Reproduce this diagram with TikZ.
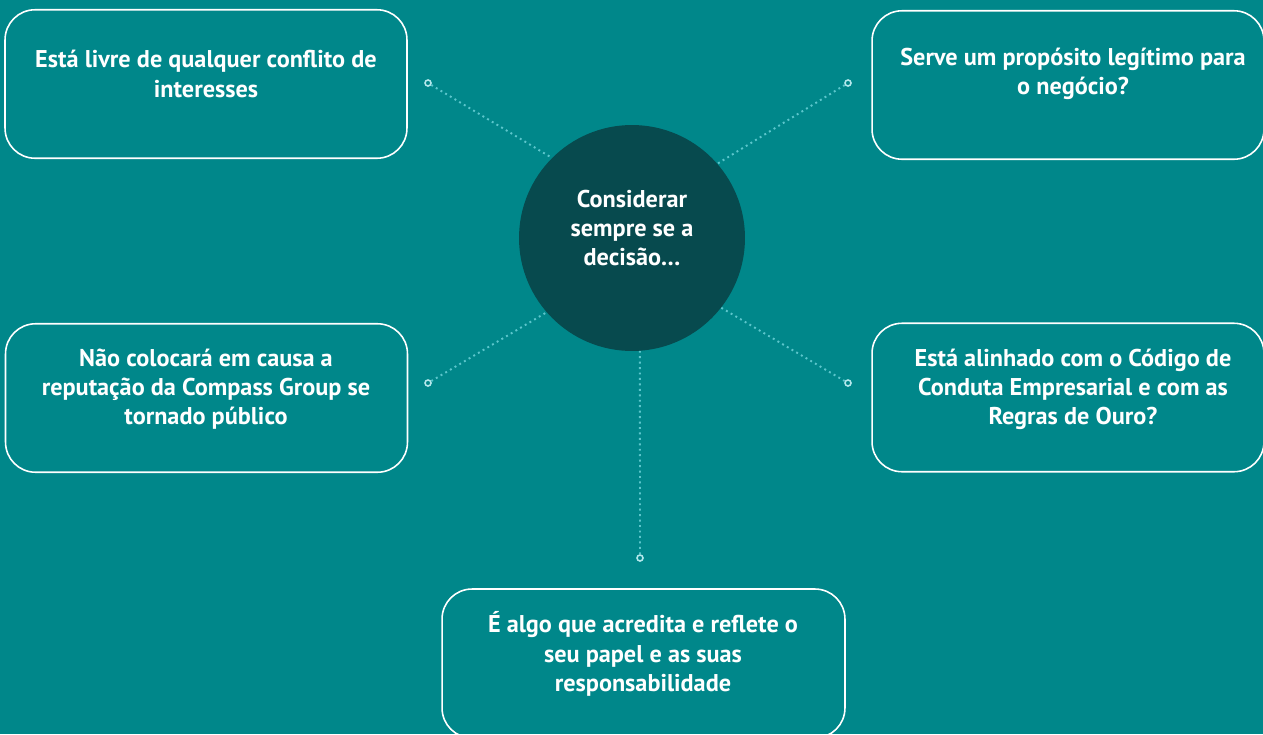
\documentclass[tikz,border=0pt]{standalone}
\usepackage{fontspec}
\setmainfont{PT Sans}
\usepackage{xcolor}

\definecolor{bgteal}{HTML}{00878A}
\definecolor{hubdark}{HTML}{074A4E}
\definecolor{dotline}{HTML}{5CC6CC}
\definecolor{pinring}{HTML}{B4E8EC}

\tikzset{
  card/.style={draw=white, line width=0.9pt, rounded corners=0.6cm, minimum width=8.04cm, minimum height=2.97cm},
  cardtext/.style={text=white, font=\bfseries\fontsize{13.8}{16.6}\selectfont, align=center},
  hub/.style={circle, fill=hubdark, minimum size=4.52cm, inner sep=0pt},
  pin/.style={circle, draw=pinring, fill=bgteal, line width=0.9pt, minimum size=0.12cm, inner sep=0pt},
  link/.style={dotline, dotted, line width=1.1pt}
}

\begin{document}
\begin{tikzpicture}[x=0.02cm, y=-0.02cm]
            \useasboundingbox (0,0) rectangle (1263,734);
            \fill[bgteal] (0,0) rectangle (1263,734); % background

            % centre
            \node[hub] (hub) at (632,238) {};
            \node[cardtext] (hub-t) at (632,228) {Considerar\\sempre se a\\decisão\dots};

            % cards
            \node[card] (tl) at (206,84) {};
            \node[card, minimum width=7.84cm] (tr) at (1068,85) {};
            \node[card] (ml) at (206.5,398) {};
            \node[card, minimum width=7.84cm] (mr) at (1068,397.5) {};
            \node[card, minimum width=8.06cm, minimum height=2.98cm] (bot) at (643.5,663.5) {};

            \node[cardtext] (tl-t) at (206,74) {Está livre de qualquer conflito de\\interesses};
            \node[cardtext] (tr-t) at (1073,74) {Serve um propósito legítimo para\\o negócio?};
            \node[cardtext] (ml-t) at (206,389) {Não colocará em causa a\\reputação da Compass Group se\\tornado público};
            \node[cardtext] (mr-t) at (1073,389) {Está alinhado com o Código de\\Conduta Empresarial e com as\\Regras de Ouro?};
            \node[cardtext] (bot-t) at (643,654) {É algo que acredita e reflete o\\seu papel e as suas\\responsabilidade};

            % pins
            \node[pin] (tl-pin) at (428,83) {};
            \node[pin] (tr-pin) at (848,83) {};
            \node[pin] (ml-pin) at (428,383) {};
            \node[pin] (mr-pin) at (848,383) {};
            \node[pin] (bot-pin) at (640,558) {};

            % connectors
            \draw[link] (tl-pin) -- (hub.135);
            \draw[link] (tr-pin) -- (hub.41);
            \draw[link] (ml-pin) -- (hub.221);
            \draw[link] (mr-pin) -- (hub.322);
            \draw[link] (bot-pin) -- (hub.274);
        \end{tikzpicture}
\end{document}
